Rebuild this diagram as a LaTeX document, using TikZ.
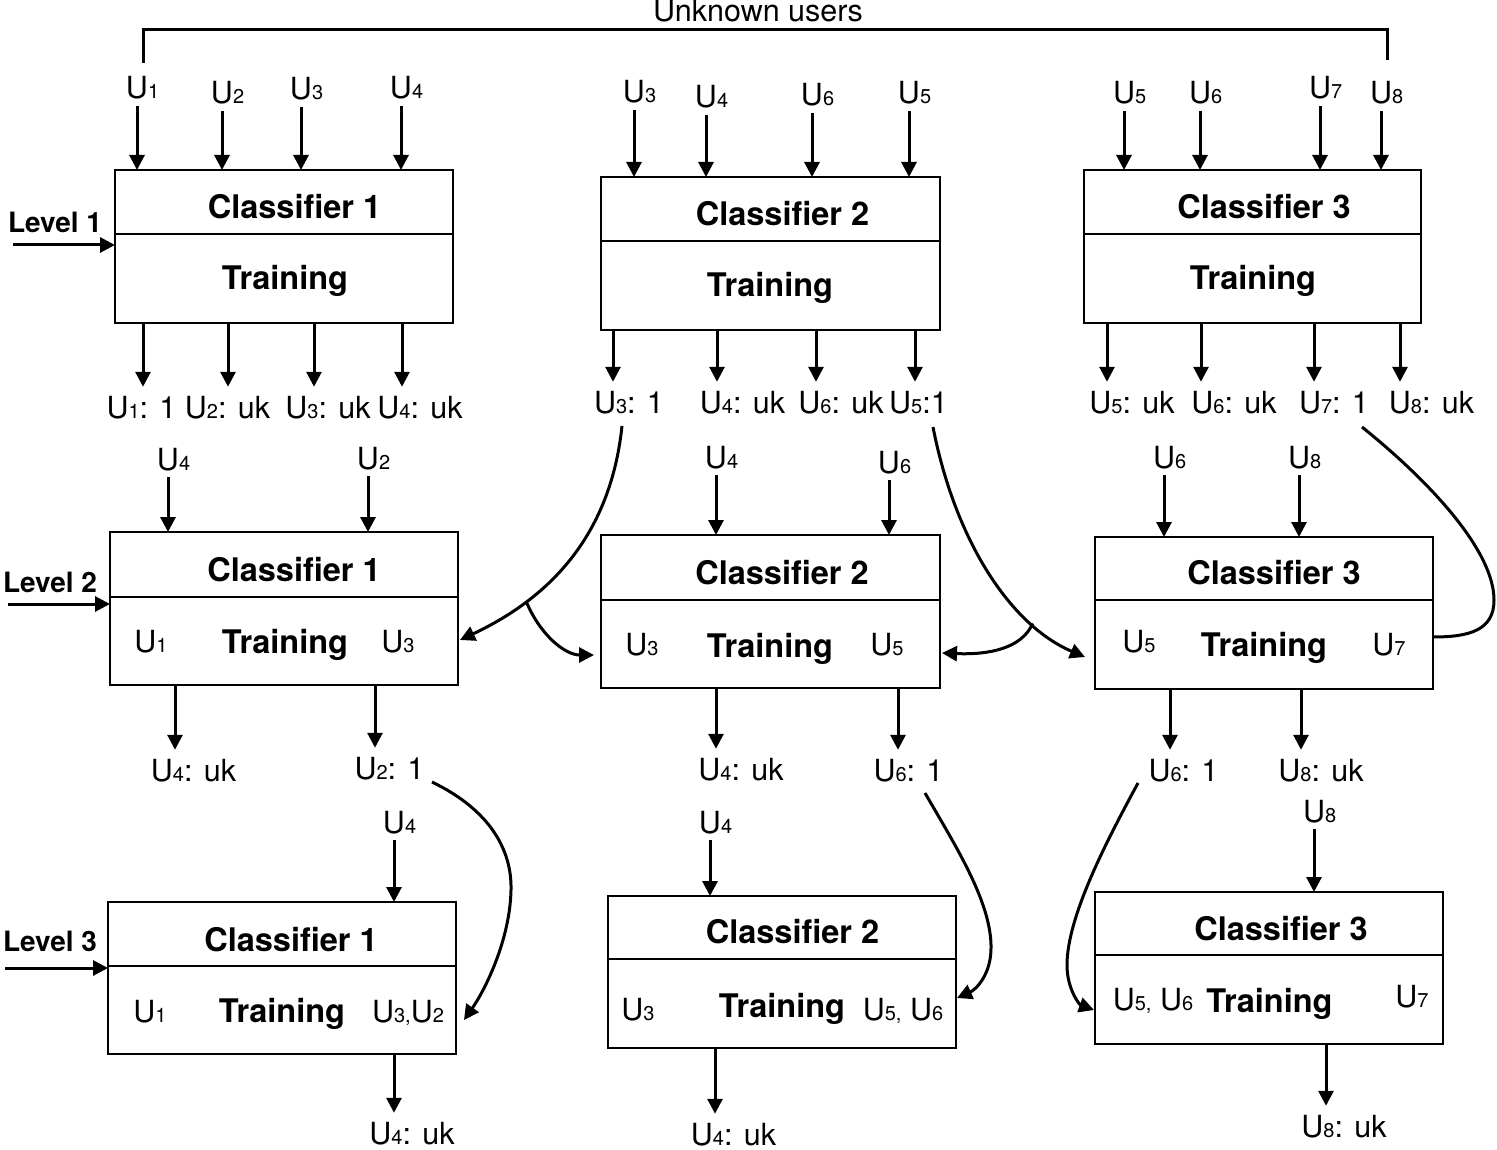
\documentclass[tikz,border=0pt]{standalone}
\usepackage{fontspec}
\setmainfont{TeX Gyre Heros}
\usetikzlibrary{arrows.meta,calc}
\newcommand\sbs[1]{{\fontsize{20}{22}\selectfont #1}}
\newcommand\lfont{\fontsize{30.5}{36}\selectfont}
\newcommand\tfont{\fontsize{32.5}{38}\selectfont\bfseries}
\newcommand\vfont{\fontsize{28}{32}\selectfont\bfseries}
\begin{document}
\begin{tikzpicture}[x=1pt,y=-1pt,
 box/.style={draw, line width=2.7pt, anchor=north west, inner sep=0pt, outer sep=0pt},
 ttl/.style={font=\tfont, anchor=base, inner sep=0pt},
 lbl/.style={font=\lfont, anchor=base, inner sep=0pt, outer sep=9pt},
 txt/.style={font=\lfont, anchor=base, inner sep=0pt},
 inl/.style={font=\lfont, anchor=base, inner sep=0pt, outer sep=0pt},
 lvl/.style={font=\vfont, anchor=base, inner sep=0pt},
 arr/.style={line width=3pt, -{Triangle[length=15pt,width=15pt]}},
 ln/.style={line width=3pt},
 dv/.style={line width=2.7pt}
]
\useasboundingbox (0,0) rectangle (1497,1150);

% ---------------- boxes ----------------
\node[box, minimum width=338pt, minimum height=153pt] (b11) at (115,170) {};
\node[box, minimum width=339pt, minimum height=153pt] (b21) at (601,177) {};
\node[box, minimum width=337pt, minimum height=153pt] (b31) at (1084,170) {};
\node[box, minimum width=348pt, minimum height=153pt] (b12) at (110,532) {};
\node[box, minimum width=339pt, minimum height=153pt] (b22) at (601,535) {};
\node[box, minimum width=338pt, minimum height=152pt] (b32) at (1095,537) {};
\node[box, minimum width=348pt, minimum height=152pt] (b13) at (108,902) {};
\node[box, minimum width=348pt, minimum height=152pt] (b23) at (608,896) {};
\node[box, minimum width=348pt, minimum height=152pt] (b33) at (1095,892) {};

\foreach \b/\d in {b11/64,b21/64,b31/64,b12/65,b22/65,b32/63,b13/64,b23/63,b33/63}{
  \draw[dv] ([yshift=-\d pt]\b.north west) -- ([yshift=-\d pt]\b.north east);
}

% ---------------- box texts ----------------
\node[ttl] (t11) at (294.5,219) {Classifier 1};
\node[ttl] (r11) at (285,290) {Training};
\node[ttl] (t21) at (782.5,226) {Classifier 2};
\node[ttl] (r21) at (770,297) {Training};
\node[ttl] (t31) at (1264,219) {Classifier 3};
\node[ttl] (r31) at (1253,290) {Training};

\node[ttl] (t12) at (294,581) {Classifier 1};
\node[ttl] (r12) at (285,653) {Training};
\node[txt] (p12) at (151,652) {U\sbs{1}};
\node[txt] (q12) at (398,652) {U\sbs{3}};
\node[ttl] (t22) at (782,584) {Classifier 2};
\node[ttl] (r22) at (770,657) {Training};
\node[txt] (p22) at (642,655) {U\sbs{3}};
\node[txt] (q22) at (887,655) {U\sbs{5}};
\node[ttl] (t32) at (1274,584) {Classifier 3};
\node[ttl] (r32) at (1264,656) {Training};
\node[txt] (p32) at (1139,652) {U\sbs{5}};
\node[txt] (q32) at (1389,655) {U\sbs{7}};

\node[ttl] (t13) at (291,951) {Classifier 1};
\node[ttl] (r13) at (282,1022) {Training};
\node[txt] (p13) at (150,1022) {U\sbs{1}};
\node[txt] (q13) at (408,1022) {U\sbs{3,}U\sbs{2}};
\node[ttl] (t23) at (792.5,943) {Classifier 2};
\node[ttl] (r23) at (782,1017) {Training};
\node[txt] (p23) at (638,1020) {U\sbs{3}};
\node[txt] (q23) at (903,1020) {U\sbs{5,} U\sbs{6}};
\node[ttl] (t33) at (1281,940) {Classifier 3};
\node[ttl] (r33) at (1269.5,1012) {Training};
\node[txt] (p33) at (1153,1010) {U\sbs{5,} U\sbs{6}};
\node[txt] (q33) at (1412,1007) {U\sbs{7}};

% ---------------- levels ----------------
\node[lvl] (lv1) at (55,233) {Level 1};
\node[lvl] (lv2) at (50,592) {Level 2};
\node[lvl] (lv3) at (50,951) {Level 3};
\coordinate (lv1s) at (13,245);
\coordinate (lv2s) at (8,604);
\coordinate (lv3s) at (5,968);
\draw[arr] (lv1s) -- (lv1s -| b11.west);
\draw[arr] (lv2s) -- (lv2s -| b12.west);
\draw[arr] (lv3s) -- (lv3s -| b13.west);

% ---------------- unknown users bracket ----------------
\node[txt] (unk) at (758,22) {Unknown users};
\coordinate (ub) at (758,30);

% ---------------- input labels and arrows ----------------
\foreach \n/\x/\y/\s/\b in {
  i11/137/99/1/b11, i12/222/104/2/b11, i13/301/100/3/b11, i14/401/99/4/b11,
  i21/634/103/3/b21, i22/706/108/4/b21, i23/812/106/6/b21, i24/909/104/5/b21,
  i31/1124/104/5/b31, i32/1200/104/6/b31, i33/1320/99/7/b31, i34/1381/104/8/b31,
  j11/168/470/4/b12, j12/368/469/2/b12,
  j21/716/468/4/b22, j22/889/473/6/b22,
  j31/1164/468/6/b32, j32/1299/468/8/b32,
  k11/394/833/4/b13, k21/710/833/4/b23, k31/1314/822/8/b33}{
  \node[inl] (\n) at (\x,\y) {U\rlap{\sbs{\s}}};
  \draw[arr] ([yshift=-7pt]\n.base) -- (\n |- \b.north);
}
\draw[ln] ([xshift=6pt,yshift=14pt]i11.north) |- (ub) -| ([xshift=6pt,yshift=22pt]i34.north);

% ---------------- output labels and arrows ----------------
\foreach \n/\x/\y/\t/\d/\b in {
  o11/141.5/418/{U\sbs{1}: 1}/1.5/b11, o12/227.5/418/{U\sbs{2}: uk}/0.5/b11,
  o13/328/418/{U\sbs{3}: uk}/-14/b11, o14/420/418/{U\sbs{4}: uk}/-18/b11,
  o21/629/413/{U\sbs{3}: 1}/-16/b21, o22/742.5/413/{U\sbs{4}: uk}/-25.5/b21,
  o23/841/413/{U\sbs{6}: uk}/-25/b21, o24/918.5/413/{U\sbs{5}:1}/-3.5/b21,
  o31/1132/413/{U\sbs{5}: uk}/-25/b31, o32/1234/413/{U\sbs{6}: uk}/-33/b31,
  o33/1334/413/{U\sbs{7}: 1}/-20/b31, o34/1431.5/413/{U\sbs{8}: uk}/-31.5/b31,
  p11/193.5/781/{U\sbs{4}: uk}/-18.5/b12, p12/389.5/779/{U\sbs{2}: 1}/-14.5/b12,
  p21/741/780/{U\sbs{4}: uk}/-25/b22, p22/908.5/781/{U\sbs{6}: 1}/-10.5/b22,
  p31/1183.5/781/{U\sbs{6}: 1}/-13.5/b32, p32/1321/781/{U\sbs{8}: uk}/-20/b32,
  s11/412/1144/{U\sbs{4}: uk}/-18/b13, s21/733.5/1145/{U\sbs{4}: uk}/-18.5/b23,
  s31/1344/1137/{U\sbs{8}: uk}/-18/b33}{
  \node[lbl] (\n) at (\x,\y) {\t};
  \draw[arr] ([xshift=\d pt]\n.north |- \b.south) -- ([xshift=\d pt]\n.north);
}

% ---------------- curved connectors ----------------
\coordinate (c1s) at ([xshift=-7pt,yshift=-13pt]o21.base);
\coordinate (c1e) at ([xshift=2pt,yshift=-31.5pt]b12.east);
\coordinate (c1f) at ([xshift=-7pt,yshift=-43.5pt]b22.west);
\draw[arr] (c1s) .. controls (610,540) and (545,600) .. (c1e) coordinate[pos=0.72] (br1);
\draw[arr] (br1) .. controls (540,635) and (565,655) .. (c1f);

\coordinate (c2s) at ([xshift=14.5pt,yshift=-14pt]o24.base);
\coordinate (c2e) at ([xshift=-10pt,yshift=-44pt]b32.west);
\coordinate (c2f) at ([xshift=2pt,yshift=-41.5pt]b22.east);
\draw[arr] (c2s) .. controls (955,540) and (1010,625) .. (c2e) coordinate[pos=0.75] (br2);
\draw[arr] (br2) .. controls (1022,648) and (990,655) .. (c2f);

\coordinate (c3s) at ([xshift=28pt,yshift=-14pt]o33.base);
\coordinate (c3e) at ([yshift=-24pt]b32.east);
\draw[ln] (c3s) .. controls (1440,490) and (1494,555) .. (1494,600)
  .. controls (1494,630) and (1470,637) .. (c3e);

\coordinate (c4s) at ([xshift=42.5pt,yshift=-3pt]p12.base);
\coordinate (c4e) at ([xshift=8pt,yshift=-42pt]b13.east);
\draw[arr] (c4s) .. controls (490,810) and (512,850) .. (511,890)
  .. controls (510,940) and (485,990) .. (c4e);

\coordinate (c5s) at ([xshift=16.5pt,yshift=-12pt]p22.base);
\coordinate (c5e) at ([xshift=1pt,yshift=-26pt]b23.east);
\draw[arr] (c5s) .. controls (955,845) and (990,900) .. (991,945)
  .. controls (992,975) and (975,990) .. (c5e);

\coordinate (c6s) at ([xshift=-45.5pt,yshift=-2pt]p31.base);
\coordinate (c6e) at ([xshift=-1pt,yshift=-42pt]b33.west);
\draw[arr] (c6s) .. controls (1110,835) and (1067,915) .. (1067,965)
  .. controls (1067,990) and (1080,1005) .. (c6e);
\end{tikzpicture}
\end{document}
